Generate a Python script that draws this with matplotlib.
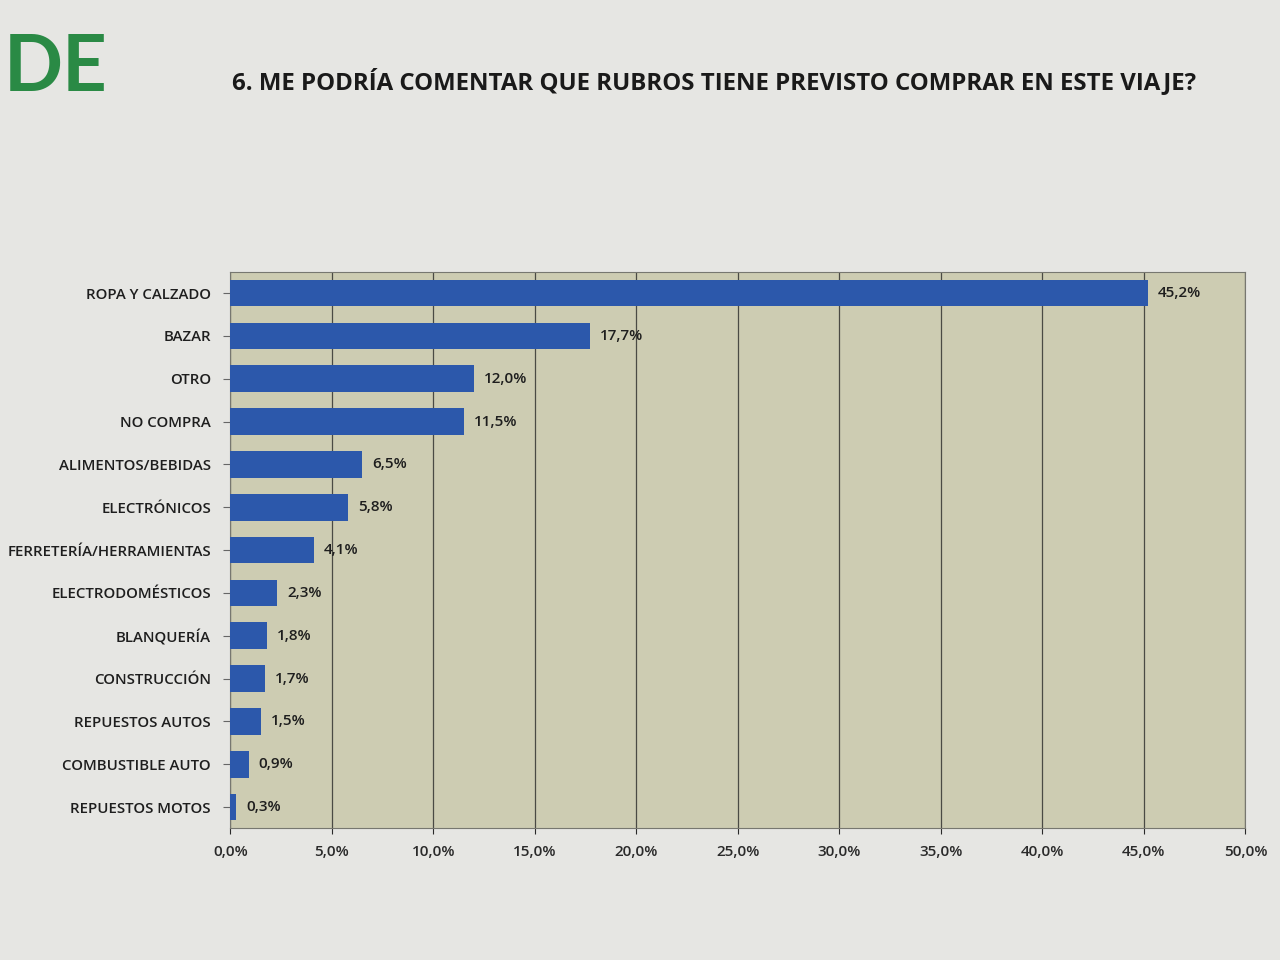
import matplotlib.pyplot as plt
from matplotlib.ticker import FuncFormatter

# chart data
categories = ["ROPA Y CALZADO", "BAZAR", "OTRO", "NO COMPRA", "ALIMENTOS/BEBIDAS",
              "ELECTRÓNICOS", "FERRETERÍA/HERRAMIENTAS", "ELECTRODOMÉSTICOS",
              "BLANQUERÍA", "CONSTRUCCIÓN", "REPUESTOS AUTOS", "COMBUSTIBLE AUTO",
              "REPUESTOS MOTOS"]
values = [45.2, 17.7, 12.0, 11.5, 6.5, 5.8, 4.1, 2.3, 1.8, 1.7, 1.5, 0.9, 0.3]
x_ticks = [0, 5, 10, 15, 20, 25, 30, 35, 40, 45, 50]

title = "6. ME PODRÍA COMENTAR QUE RUBROS TIENE PREVISTO COMPRAR EN ESTE VIAJE?"

plt.rcParams["font.family"] = ["Open Sans", "DejaVu Sans"]


def pct(v):
    return f"{v:.1f}%".replace(".", ",")


fig = plt.figure(figsize=(12.8, 9.6), dpi=100)
fig.patch.set_facecolor("#e6e6e3")

ax = fig.add_axes([0.18, 0.137, 0.793, 0.58])
ax.set_facecolor("#cdccb2")

ypos = list(range(len(categories)))
ax.barh(ypos, values, height=0.62, color="#2c58ab", zorder=3)
ax.set_yticks(ypos)
ax.set_yticklabels(categories, fontsize=10.8, color="#1e1e1e", fontweight="semibold")
ax.set_ylim(len(categories) - 0.5, -0.5)

ax.set_xlim(0, 50)
ax.set_xticks(x_ticks)
ax.xaxis.set_major_formatter(FuncFormatter(lambda v, p: pct(v)))
for lbl in ax.get_xticklabels():
    lbl.set_fontweight("semibold")
ax.tick_params(axis="x", labelsize=11, colors="#2a2a2a", pad=8, length=4)
ax.tick_params(axis="y", length=5, pad=9, color="#666666")
ax.grid(axis="x", color="#4a4a44", linewidth=0.9, zorder=1)

for y, v in zip(ypos, values):
    ax.text(v + 0.5, y, pct(v), va="center", ha="left",
            fontsize=11, color="#1e1e1e", fontweight="semibold", zorder=4)

for side in ["top", "right", "left", "bottom"]:
    ax.spines[side].set_color("#777770")

# logo and title
fig.text(0.003, 0.928, "DE", fontsize=56, fontweight="bold", color="#2a8a45",
         va="center", ha="left", family=["Lato", "DejaVu Sans"])
fig.text(0.181, 0.915, title, fontsize=17.3, fontweight="bold", color="#1a1a1a",
         va="center", ha="left")

fig.savefig("out.png", dpi=100, facecolor=fig.get_facecolor())
